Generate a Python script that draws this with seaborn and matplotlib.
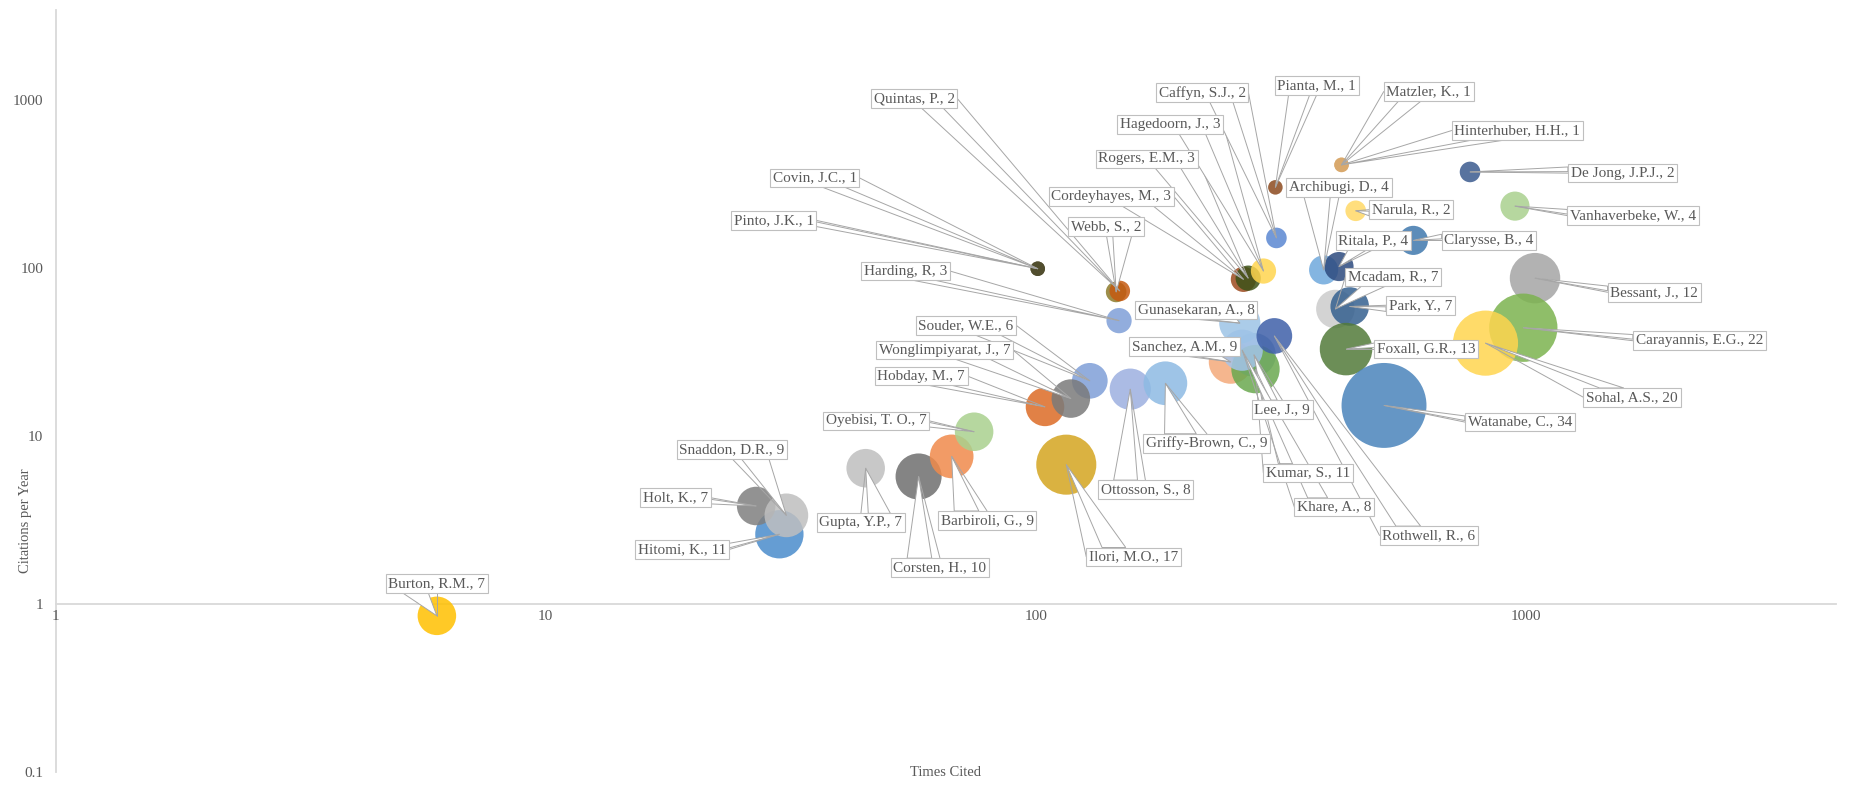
#Bubble chart of authors: times cited vs citations per year
import numpy as np
import pandas as pd
import matplotlib
matplotlib.use("Agg")
import matplotlib.pyplot as plt
from matplotlib.patches import Polygon
import seaborn as sns

#data
names = [
    "Burton, R.M.", "Hitomi, K.", "Holt, K.", "Snaddon, D.R.", "Gupta, Y.P.",
    "Corsten, H.", "Barbiroli, G.", "Oyebisi, T. O.", "Ilori, M.O.", "Hobday, M.",
    "Souder, W.E.", "Wonglimpiyarat, J.", "Ottosson, S.", "Griffy-Brown, C.", "Harding, R",
    "Covin, J.C.", "Pinto, J.K.", "Webb, S.", "Quintas, P.", "Cordeyhayes, M.",
    "Rogers, E.M.", "Hagedoorn, J.", "Caffyn, S.J.", "Pianta, M.", "Matzler, K.",
    "Hinterhuber, H.H.", "De Jong, J.P.J.", "Narula, R.", "Vanhaverbeke, W.", "Archibugi, D.",
    "Ritala, P.", "Clarysse, B.", "Mcadam, R.", "Park, Y.", "Bessant, J.",
    "Carayannis, E.G.", "Sohal, A.S.", "Foxall, G.R.", "Watanabe, C.", "Sanchez, A.M.",
    "Lee, J.", "Kumar, S.", "Khare, A.", "Gunasekaran, A.", "Rothwell, R.",
]
times_cited = [
    6.0, 30, 26.9, 31, 45,
    57.7, 67.4, 74.9, 115.5, 104.5,
    129, 118, 156, 184, 148,
    101, 101, 146, 148.5, 265.5,
    271.5, 291.7, 310, 308.5, 421,
    421, 770, 450, 951, 387,
    416, 590, 409, 437.5, 1045,
    989, 828, 430, 514, 250,
    279, 281, 264, 261, 307,
]
cites_per_year = [
    0.85, 2.6, 3.83, 3.37, 6.43,
    5.74, 7.56, 10.6, 6.75, 14.9,
    21.3, 16.7, 19.0, 20.6, 48.6,
    99, 99, 72, 73, 85.6,
    87, 95.9, 151, 302, 411,
    411, 373, 219, 233.5, 97.4,
    102, 146, 57, 59, 87,
    44.1, 35.7, 32.9, 15.2, 27.6,
    30.4, 25.0, 32.4, 47, 39.4,
]
papers = [
    7, 11, 7, 9, 7,
    10, 9, 7, 17, 7,
    6, 7, 8, 9, 3,
    1, 1, 2, 2, 3,
    3, 3, 2, 1, 1,
    1, 2, 2, 4, 4,
    4, 4, 7, 7, 12,
    22, 20, 13, 34, 9,
    9, 11, 8, 8, 6,
]
colors = [
    "#ffc000", "#4a8ccc", "#7f7f7f", "#bfbfbf", "#bfbfbf",
    "#6e6e6e", "#f08a4b", "#a9d18e", "#d4a520", "#dc6b26",
    "#7f9fd8", "#7a7a7a", "#9cafe0", "#8dbae3", "#7f9fd8",
    "#4d4a2a", "#4d4a2a", "#8c7a2a", "#c55a11", "#9c4a1e",
    "#3d5218", "#ffd54f", "#5b87d2", "#8c4a1e", "#d9a86a",
    "#d9a86a", "#3b5a8e", "#ffd966", "#a9d18e", "#6fa8dc",
    "#2d4a7e", "#3f78ad", "#cccccc", "#35608f", "#a5a5a5",
    "#7cb34f", "#ffd54f", "#527a3a", "#4a84bb", "#f4a97a",
    "#8fb0c8", "#6aa84f", "#a4c4ea", "#9dc3e6", "#3e5fa8",
]
#where each callout box sits (data coordinates)
label_x = [
    6.0, 19.0, 18.4, 24.0, 44.0,
    63.8, 79.6, 47.3, 158.5, 58.4,
    72.1, 65.2, 167.5, 223.6, 54.3,
    35.4, 29.2, 139.5, 56.5, 142.7,
    168.5, 188.2, 218.7, 374.5, 634.5,
    961.8, 1576, 584, 1657, 416,
    489, 842, 537, 610, 1830,
    2261, 1648, 627.5, 972.7, 201,
    318.8, 360, 407, 212.6, 634.5,
]
label_y = [
    1.32, 2.11, 4.29, 8.33, 3.05,
    1.65, 3.15, 12.3, 1.91, 22.7,
    45.5, 32.4, 4.81, 9.03, 95.9,
    344, 192, 177, 1018, 266,
    446, 713, 1104, 1216, 1122,
    658, 367, 222.5, 205, 302,
    146, 146, 88.4, 60, 71.7,
    36.9, 17.0, 32.9, 12.1, 34.0,
    14.4, 6.03, 3.77, 56.2, 2.56,
]

df = pd.DataFrame({
    "name": names,
    "times_cited": times_cited,
    "cites_per_year": cites_per_year,
    "papers": papers,
})

sns.set_style("white")
plt.rcParams["font.family"] = ["Liberation Serif", "DejaVu Serif"]

text_color = "#595959"
line_color = "#a6a6a6"

fig = plt.figure(figsize=(18.52, 7.85), dpi=100)
ax = fig.add_axes([0.030, 0.0166, 0.9614, 0.9707])

sns.scatterplot(data=df, x="times_cited", y="cites_per_year", hue="name",
                palette=dict(zip(names, colors)), size="papers",
                sizes=(110, 3740), size_norm=(1, 34), alpha=0.85,
                linewidth=0, legend=False, ax=ax, zorder=2)

ax.set_xscale("log")
ax.set_yscale("log")
ax.set_xlim(1, 4300)
ax.set_ylim(0.1, 3435)
ax.set_xticks([1, 10, 100, 1000])
ax.set_xticklabels(["1", "10", "100", "1000"])
ax.set_yticks([0.1, 1, 10, 100, 1000])
ax.set_yticklabels(["0.1", "1", "10", "100", "1000"])
ax.minorticks_off()
ax.tick_params(length=0, labelsize=11, labelcolor=text_color)
ax.tick_params(axis="y", pad=9)
ax.tick_params(axis="x", pad=4)
#tick labels sit on a white patch so the axis line breaks behind them
for lab in ax.get_xticklabels():
    lab.set_bbox(dict(boxstyle="square,pad=0.15", fc="white", ec="none"))

for s in ["top", "right"]:
    ax.spines[s].set_visible(False)
ax.spines["bottom"].set_position(("data", 1))
for s in ["bottom", "left"]:
    ax.spines[s].set_color("#d9d9d9")
    ax.spines[s].set_linewidth(1.3)
    ax.spines[s].set_zorder(1)
ax.xaxis.set_zorder(1.2)

ax.set_xlabel("Times Cited", fontsize=10.5, color=text_color)
ax.xaxis.set_label_coords(0.5, -0.001)
ax.xaxis.label.set_va("center")
ax.set_ylabel("Citations per Year", fontsize=10.5, color=text_color)
ax.yaxis.set_label_coords(-0.0168, 0.33)
ax.yaxis.label.set_va("center")

#callout boxes
texts = []
for i in range(len(names)):
    t = ax.text(label_x[i], label_y[i], f"{names[i]}, {papers[i]}",
                ha="center", va="center", fontsize=11, color=text_color, zorder=5,
                bbox=dict(boxstyle="square,pad=0.18", fc="white", ec="#bfbfbf", lw=0.8))
    texts.append(t)

fig.canvas.draw()
renderer = fig.canvas.get_renderer()
inv = ax.transData.inverted()

#wedge pointers + leader lines, like excel data callouts
for i, t in enumerate(texts):
    bb = t.get_bbox_patch().get_window_extent(renderer)
    x0, y0, x1, y1 = bb.x0, bb.y0, bb.x1, bb.y1
    w, h = x1 - x0, y1 - y0
    hc, vc = (x0 + x1) / 2, (y0 + y1) / 2
    tx, ty = ax.transData.transform((times_cited[i], cites_per_year[i]))
    dx, dy = tx - hc, ty - vc
    if abs(dy) > abs(dx * h / w):
        ey = y1 if dy > 0 else y0
        if dx > 0:
            a, b = x0 + w * 7 / 12, x0 + w * 10 / 12
        else:
            a, b = x0 + w * 2 / 12, x0 + w * 5 / 12
        base = [(a, ey), (b, ey)]
    else:
        ex = x1 if dx > 0 else x0
        if dy < 0:
            a, b = y1 - h * 7 / 12, y1 - h * 10 / 12
        else:
            a, b = y1 - h * 2 / 12, y1 - h * 5 / 12
        base = [(ex, a), (ex, b)]
    poly = inv.transform([base[0], (tx, ty), base[1]])
    ax.add_patch(Polygon(poly, closed=True, fc="white", ec=line_color, lw=0.7, zorder=3))

    if tx > x1:
        lp = (x1, vc)
    elif tx < x0:
        lp = (x0, vc)
    elif ty > y1:
        lp = (hc, y1)
    else:
        lp = (hc, y0)
    pts = inv.transform([lp, (tx, ty)])
    ax.plot(pts[:, 0], pts[:, 1], color=line_color, lw=0.7, zorder=3)

plt.savefig("out.png", dpi=100)
plt.close()
